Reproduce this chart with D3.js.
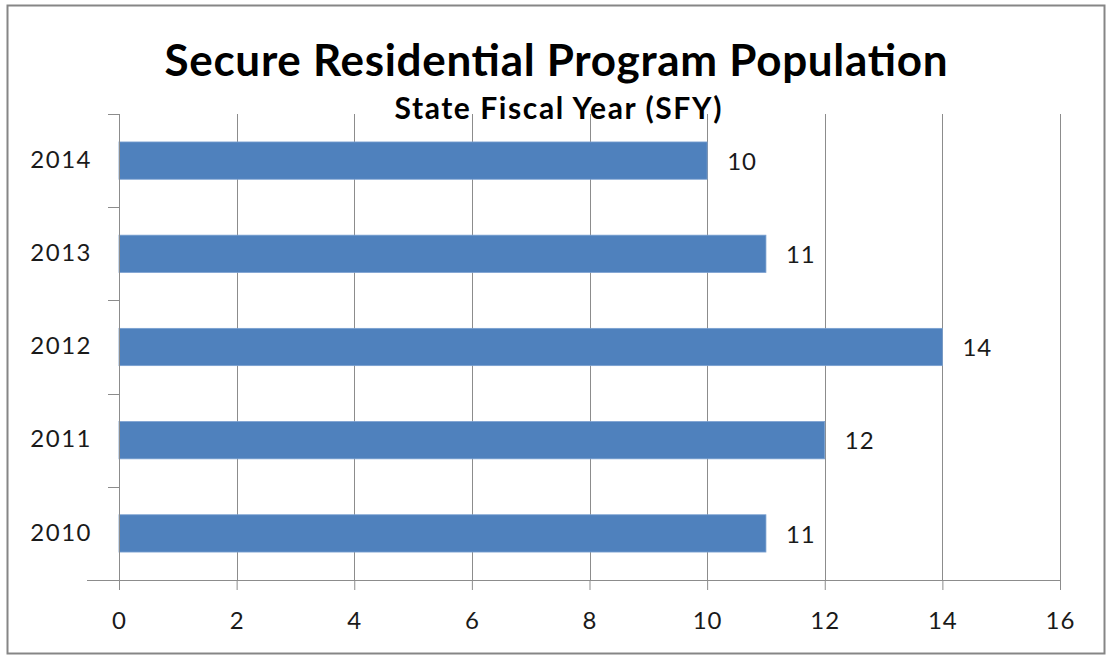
<!DOCTYPE html>
<html>
<head>
<meta charset="utf-8">
<script src="https://cdn.jsdelivr.net/npm/d3@7"></script>
<style>
  html, body { margin: 0; padding: 0; background: #fff; }
  svg { display: block; font-family: Lato, "Open Sans", sans-serif; }
</style>
</head>
<body>
<svg id="chart" width="1109" height="656"></svg>
<script>
// Fiscal years and population counts
const years = ["2014", "2013", "2012", "2011", "2010"];
const population = [10, 11, 14, 12, 11];
const xTicks = [0, 2, 4, 6, 8, 10, 12, 14, 16];

const titleText = "Secure Residential Program Population";
const subtitleText = "State Fiscal Year (SFY)";

const svg = d3.select("#chart");
const W = 1109, H = 656;
const margin = { left: 119, right: 49, top: 114, bottom: 76 };
const plotW = W - margin.left - margin.right;
const plotH = H - margin.top - margin.bottom;
const labelSize = 24;

// Outer chart frame
svg.append("rect")
  .attr("x", 7.5).attr("y", 5.5)
  .attr("width", 1097).attr("height", 648)
  .attr("fill", "#fff")
  .attr("stroke", "#868686").attr("stroke-width", 2);

const g = svg.append("g").attr("transform", `translate(${margin.left},${margin.top})`);

const x = d3.scaleLinear().domain([0, 16]).range([0, plotW]);
const y = d3.scaleBand().domain(years).range([0, plotH]).paddingInner(0.6).paddingOuter(0.3);

// Vertical gridlines
g.selectAll(".grid").data(xTicks.slice(1)).join("line")
  .attr("class", "grid")
  .attr("x1", d => Math.round(x(d)) + 0.5).attr("x2", d => Math.round(x(d)) + 0.5)
  .attr("y1", 0).attr("y2", plotH)
  .attr("stroke", "#8c8c8c").attr("stroke-width", 1);

// Bars
g.selectAll(".bar").data(years).join("rect")
  .attr("class", "bar")
  .attr("x", x(0))
  .attr("y", d => y(d))
  .attr("width", (d, i) => x(population[i]) - x(0))
  .attr("height", y.bandwidth())
  .attr("fill", "#4f81bd")
  .attr("stroke", "#7aa0d0").attr("stroke-width", 0.8);

// Value labels
g.selectAll(".val").data(years).join("text")
  .attr("class", "val")
  .attr("x", (d, i) => x(population[i]) + 20)
  .attr("y", d => y(d) + y.bandwidth() / 2)
  .attr("dy", "0.38em")
  .attr("font-size", labelSize)
  .attr("letter-spacing", 1)
  .attr("fill", "#1a1a1a")
  .text((d, i) => population[i]);

// Bottom axis
const xAxis = g.append("g")
  .attr("transform", `translate(0,${plotH})`)
  .call(d3.axisBottom(x).tickValues(xTicks).tickSize(10).tickPadding(22).tickSizeOuter(0));
xAxis.select(".domain").attr("stroke", "#8c8c8c").attr("d", `M-32,0.5H${plotW + 0.5}`);
xAxis.selectAll(".tick line").attr("stroke", "#8c8c8c");
xAxis.selectAll(".tick text").attr("font-size", labelSize).attr("fill", "#1a1a1a")
  .attr("letter-spacing", 1)
  .attr("font-family", "Lato, 'Open Sans', sans-serif");

// Left axis with ticks at category boundaries
const yAxisG = g.append("g");
yAxisG.append("line")
  .attr("x1", 0.5).attr("x2", 0.5).attr("y1", 0).attr("y2", plotH + 10)
  .attr("stroke", "#8c8c8c");
const step = y.step();
const boundaries = d3.range(years.length).map(i => y(years[i]) - step * 0.3);
yAxisG.selectAll(".ytick").data(boundaries).join("line")
  .attr("class", "ytick")
  .attr("x1", -11).attr("x2", 0)
  .attr("y1", d => Math.round(d) + 0.5).attr("y2", d => Math.round(d) + 0.5)
  .attr("stroke", "#8c8c8c");
yAxisG.selectAll(".ylab").data(years).join("text")
  .attr("class", "ylab")
  .attr("x", -27)
  .attr("y", d => y(d) + y.bandwidth() / 2)
  .attr("dy", "0.3em")
  .attr("text-anchor", "end")
  .attr("font-size", labelSize)
  .attr("letter-spacing", 1.5)
  .attr("fill", "#1a1a1a")
  .text(d => d);

// Titles
svg.append("text")
  .attr("x", 556).attr("y", 76)
  .attr("text-anchor", "middle")
  .attr("font-size", 44).attr("font-weight", "bold")
  .attr("textLength", 783).attr("lengthAdjust", "spacing")
  .attr("fill", "#000")
  .text(titleText);
svg.append("text")
  .attr("x", 558).attr("y", 119)
  .attr("text-anchor", "middle")
  .attr("font-size", 30).attr("font-weight", "bold")
  .attr("textLength", 327).attr("lengthAdjust", "spacing")
  .attr("fill", "#000")
  .text(subtitleText);
</script>
</body>
</html>
